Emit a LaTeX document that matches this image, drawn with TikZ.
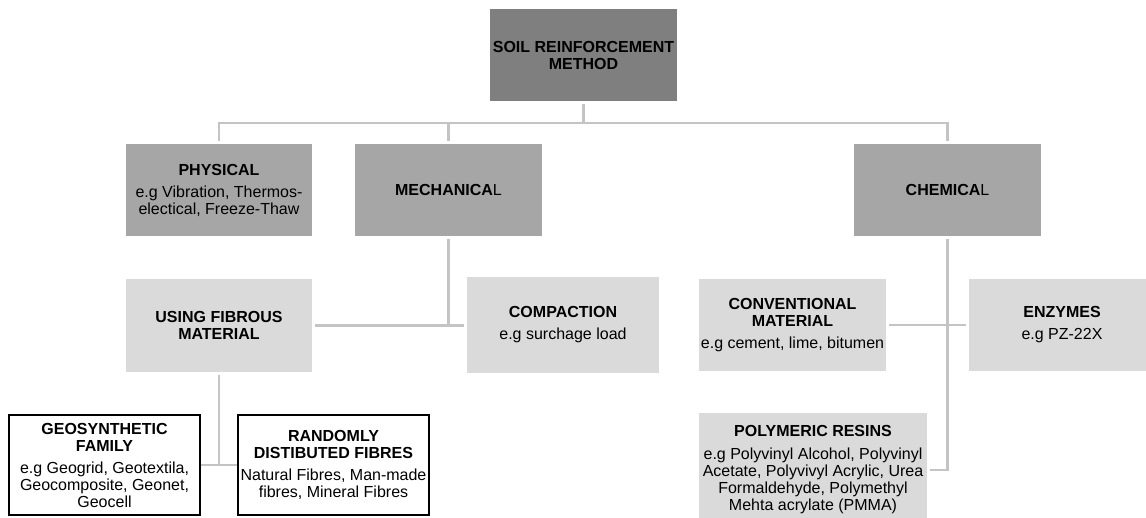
\documentclass[tikz,border=0pt]{standalone}
\usepackage{fontspec}
\setmainfont{Liberation Sans}
\definecolor{darkbox}{HTML}{7F7F7F}
\definecolor{midbox}{HTML}{A6A6A6}
\definecolor{lightbox}{HTML}{DADADA}
\definecolor{linkc}{HTML}{C4C4C4}
\newcommand{\hd}[1]{\textbf{#1}}
\begin{document}
\begin{tikzpicture}[x=1pt,y=-1pt,
  box/.style={minimum height=92,inner sep=2,outer sep=3,align=center,font=\fontsize{16}{17}\selectfont},
  framebox/.style={draw=black,line width=2.4,fill=white,minimum width=191,minimum height=100,inner sep=1,align=center,font=\fontsize{16}{17}\selectfont},
  link/.style={draw=linkc,line width=2.2}]
\clip (0,0) rectangle (1146,517);
\node[box,fill=darkbox,minimum width=187] (soil) at (583.5,55) {\hd{SOIL REINFORCEMENT}\\\hd{METHOD}};
\node[box,fill=midbox,minimum width=186] (phys) at (219,190) {\hd{PHYSICAL}\\[5pt]e.g Vibration, Thermos-\\electical, Freeze-Thaw};
\node[box,fill=midbox,minimum width=187] (mech) at (448.5,190) {\hd{MECHANICA}L};
\node[box,fill=midbox,minimum width=187] (chem) at (947.5,190) {\hd{CHEMICA}L};
\node[box,fill=lightbox,minimum width=186,minimum height=93] (fib) at (219,325.5) {\hd{USING FIBROUS}\\\hd{MATERIAL}};
\node[box,fill=lightbox,minimum width=192,minimum height=96] (comp) at (563,325) {\hd{COMPACTION}\\[5pt]e.g surchage load};
\node[box,fill=lightbox,minimum width=187] (conv) at (792.5,325) {\hd{CONVENTIONAL}\\\hd{MATERIAL}\\[5pt]e.g cement, lime, bitumen};
\node[box,fill=lightbox,minimum width=187] (enz) at (1062,325) {\hd{ENZYMES}\\[5pt]e.g PZ-22X};
\node[box,fill=lightbox,minimum width=228,minimum height=114] (poly) at (813,470) {\hd{POLYMERIC RESINS}\\[6pt]e.g Polyvinyl Alcohol, Polyvinyl\\Acetate, Polyvivyl Acrylic, Urea\\Formaldehyde, Polymethyl\\Mehta acrylate (PMMA)};
\node[framebox] (geo) at (104.5,465) {\hd{GEOSYNTHETIC}\\\hd{FAMILY}\\[5pt]e.g Geogrid, Geotextila,\\Geocomposite, Geonet,\\Geocell};
\node[framebox] (rand) at (333.5,465) {\hd{RANDOMLY}\\\hd{DISTIBUTED FIBRES}\\[5pt]Natural Fibres, Man-made\\fibres, Mineral Fibres};
% connectors
\coordinate (bus) at (583.5,123);
\draw[link] (soil) -- (bus);
\draw[link] (phys.north) |- (bus) -| (chem.north);
\draw[link] (mech.north) -- (mech.north |- bus);
\draw[link] (mech.south) -- (mech.south |- fib.east);
\draw[link] (fib.east) -- (fib.east -| comp.west);
\draw[link] (conv) -- (enz);
\draw[link] (chem.south) |- (poly.east);
\draw[link] (fib.south) -- (fib.south |- geo.east);
\draw[link] (geo) -- (rand);
\end{tikzpicture}
\end{document}
